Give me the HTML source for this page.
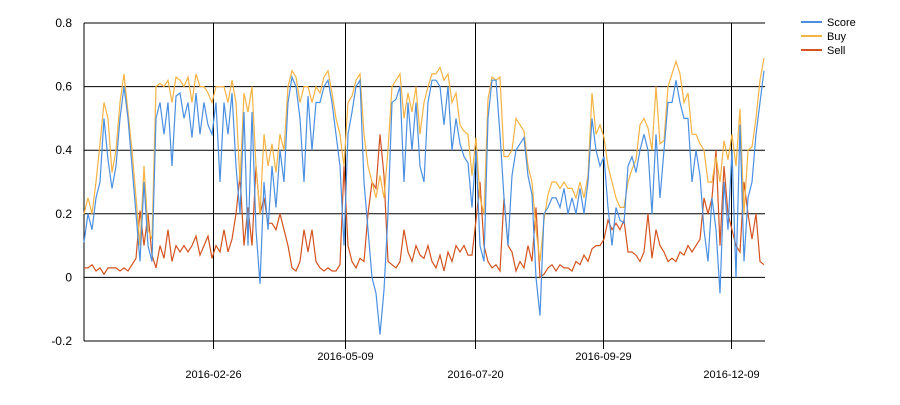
<!DOCTYPE html>
<html><head><meta charset="utf-8"><style>
body{margin:0;background:#fff;font-family:"Liberation Sans",sans-serif;}
svg text{font-family:"Liberation Sans",sans-serif;}
</style></head><body>
<svg id="chart" width="900" height="400" xmlns="http://www.w3.org/2000/svg"></svg>
<script>
const startDate = "2015-12-16";
const stepDays = 2.216;
const scoreValues = [0.11,0.2,0.15,0.25,0.3,0.5,0.37,0.28,0.35,0.5,0.6,0.5,0.35,0.2,0.05,0.3,0.1,0.05,0.5,0.55,0.45,0.55,0.35,0.57,0.58,0.5,0.55,0.44,0.58,0.45,0.55,0.48,0.45,
0.55,0.3,0.55,0.45,0.58,0.35,0.2,0.52,0.1,0.52,0.15,-0.02,0.3,0.15,0.35,0.22,0.4,0.3,0.55,0.63,0.6,0.5,0.3,0.57,0.4,0.55,0.55,0.6,0.62,0.55,0.45,0.35,
0.1,0.45,0.52,0.6,0.62,0.3,0.15,0.0,-0.05,-0.18,-0.04,0.2,0.55,0.56,0.6,0.3,0.55,0.4,0.55,0.35,0.3,0.55,0.62,0.62,0.6,0.48,0.6,0.4,0.5,0.42,0.38,0.36,
0.22,0.4,0.1,0.05,0.5,0.62,0.62,0.45,0.25,0.1,0.32,0.4,0.42,0.44,0.32,0.26,0.0,-0.12,0.2,0.22,0.25,0.25,0.22,0.28,0.2,0.25,0.2,0.28,0.2,0.3,0.5,0.4,
0.35,0.38,0.22,0.1,0.22,0.18,0.17,0.35,0.38,0.33,0.4,0.45,0.4,0.2,0.45,0.25,0.4,0.55,0.55,0.62,0.55,0.5,0.5,0.3,0.4,0.32,0.15,0.05,0.25,0.15,-0.05,0.3,0.15,0.4,0.0,0.48,0.05,0.25,0.3,0.45,0.55,0.65];
const buyValues = [0.2,0.25,0.2,0.3,0.42,0.55,0.5,0.33,0.4,0.55,0.64,0.52,0.4,0.25,0.1,0.35,0.15,0.12,0.6,0.61,0.6,0.62,0.55,0.63,0.62,0.6,0.63,0.55,0.64,0.6,0.6,0.58,0.55,
0.6,0.6,0.6,0.55,0.62,0.55,0.3,0.58,0.52,0.6,0.35,0.2,0.45,0.35,0.42,0.33,0.45,0.4,0.6,0.65,0.63,0.55,0.6,0.6,0.55,0.6,0.58,0.63,0.65,0.58,0.5,0.45,
0.35,0.55,0.57,0.62,0.64,0.45,0.35,0.3,0.25,0.32,0.25,0.4,0.6,0.62,0.64,0.5,0.58,0.52,0.6,0.45,0.55,0.6,0.64,0.64,0.66,0.62,0.64,0.55,0.58,0.48,0.46,0.45,
0.32,0.44,0.25,0.2,0.56,0.63,0.62,0.63,0.38,0.38,0.4,0.5,0.48,0.46,0.35,0.3,0.15,0.05,0.18,0.26,0.3,0.3,0.28,0.3,0.28,0.28,0.25,0.3,0.25,0.32,0.58,0.45,
0.48,0.44,0.35,0.3,0.25,0.22,0.22,0.3,0.34,0.37,0.48,0.5,0.47,0.4,0.6,0.42,0.43,0.6,0.64,0.68,0.64,0.55,0.58,0.45,0.45,0.42,0.4,0.3,0.3,0.38,0.3,0.43,0.37,0.45,0.35,0.53,0.2,0.4,0.41,0.5,0.62,0.69];
const sellValues = [0.03,0.03,0.04,0.02,0.03,0.01,0.03,0.03,0.03,0.02,0.03,0.02,0.04,0.06,0.21,0.1,0.2,0.07,0.03,0.1,0.06,0.15,0.05,0.1,0.08,0.1,0.08,0.1,0.13,0.07,0.1,0.13,0.06,
0.1,0.08,0.15,0.08,0.12,0.2,0.32,0.1,0.22,0.1,0.35,0.2,0.25,0.17,0.17,0.15,0.2,0.15,0.1,0.03,0.02,0.05,0.15,0.08,0.15,0.05,0.03,0.02,0.03,0.02,0.02,0.04,
0.35,0.1,0.05,0.03,0.06,0.05,0.2,0.3,0.28,0.45,0.32,0.05,0.04,0.03,0.05,0.15,0.08,0.05,0.1,0.07,0.06,0.1,0.05,0.03,0.07,0.02,0.08,0.05,0.1,0.08,0.1,0.07,
0.07,0.18,0.3,0.1,0.05,0.03,0.04,0.02,0.25,0.1,0.08,0.02,0.05,0.03,0.1,0.05,0.22,0.0,0.01,0.03,0.04,0.02,0.04,0.03,0.03,0.02,0.05,0.04,0.07,0.05,0.09,0.1,
0.1,0.12,0.18,0.15,0.17,0.15,0.18,0.08,0.08,0.07,0.05,0.08,0.2,0.06,0.15,0.1,0.08,0.05,0.06,0.05,0.08,0.07,0.1,0.08,0.1,0.12,0.25,0.2,0.25,0.4,0.1,0.35,0.2,0.15,0.1,0.08,0.3,0.2,0.12,0.2,0.05,0.04];
const yTicks = [-0.2,0,0.2,0.4,0.6,0.8];
const yTickLabels = ["-0.2","0","0.2","0.4","0.6","0.8"];
const xTickDates = ["2016-02-26","2016-05-09","2016-07-20","2016-09-29","2016-12-09"];
const seriesNames = ["Score","Buy","Sell"];
const seriesColors = ["#4a90e2","#f5b342","#d4531e"];

const NS="http://www.w3.org/2000/svg";
const svg=document.getElementById('chart');
const L=84,R=765,T=23,B=341;
const day0=Date.parse(startDate);
function dayOf(s){return (Date.parse(s)-day0)/86400000;}
const pxPerDay=1.805;
function xDay(d){return L+(d-0.5)*pxPerDay;}
function xIdx(i){return L+i*stepDays*pxPerDay;}
function y(v){return B-(v+0.2)/1.0*(B-T);}
function mk(tag,attrs){const e=document.createElementNS(NS,tag);for(const k in attrs)e.setAttribute(k,attrs[k]);svg.appendChild(e);return e;}

yTicks.forEach((v,i)=>{
  const l=mk('line',{x1:L,x2:R,y1:y(v),y2:y(v),stroke:'#000','stroke-width':1});
  
  
  const t=mk('text',{x:72,y:y(v)+4,'text-anchor':'end','font-size':12,fill:'#000'});
  t.textContent=yTickLabels[i];
  
  
});
const ax=mk('line',{x1:L,x2:L,y1:T,y2:B,stroke:'#000','stroke-width':1});


xTickDates.forEach((d,i)=>{
  const x=Math.round(xDay(dayOf(d)))+0.5;
  const l=mk('line',{x1:x,x2:x,y1:T,y2:B+8,stroke:'#000','stroke-width':1});
  
  
  const t=mk('text',{x:x,y:i%2===0?378:360,'text-anchor':'middle','font-size':11,fill:'#000'});
  t.textContent=d;
  
  
});
[sellValues,buyValues,scoreValues].forEach((arr,k)=>{
  const ci=[2,1,0][k];
  const p=mk('polyline',{points:arr.map((v,i)=>xIdx(i).toFixed(1)+','+y(v).toFixed(1)).join(' '),fill:'none',stroke:seriesColors[ci],'stroke-width':1.2});
  
  
});
seriesNames.forEach((n,i)=>{
  const yy=22+i*14;
  const l=mk('line',{x1:801,x2:822,y1:yy,y2:yy,stroke:seriesColors[i],'stroke-width':2});
  
  
  const t=mk('text',{x:827,y:yy+4,'font-size':11,fill:'#000'});
  t.textContent=n;
  
  
});
</script>
</body></html>
